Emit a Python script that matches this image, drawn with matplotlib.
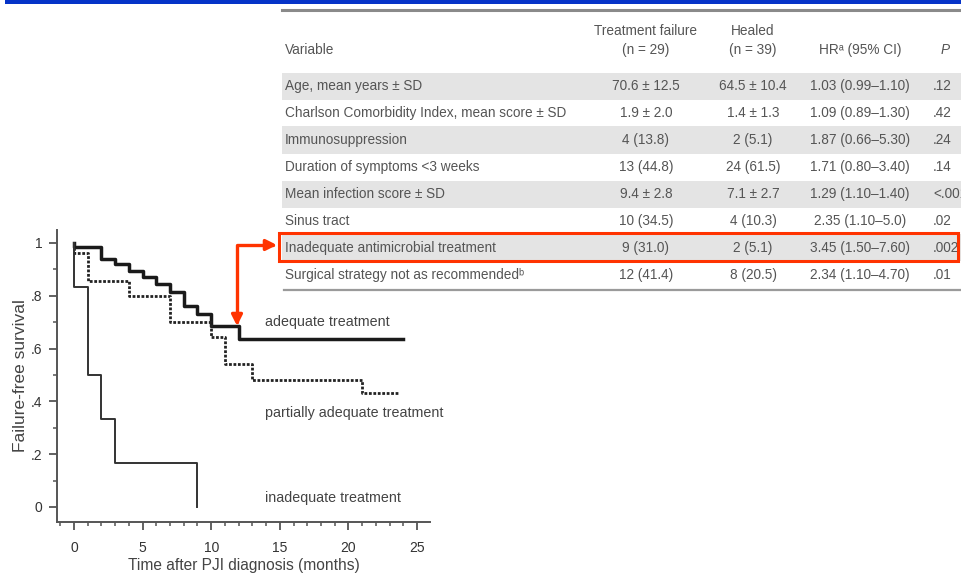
import numpy as np
import matplotlib
matplotlib.use('Agg')
import matplotlib.pyplot as plt
from matplotlib import patches
from matplotlib.path import Path
from matplotlib.ticker import MultipleLocator

plt.rcParams['font.family'] = ['Liberation Sans', 'DejaVu Sans']

#-------------------------------------------------------------------------------
# Data

# Kaplan-Meier curves (months, failure-free survival)
adequate_t = [0, 0, 2, 3, 4, 5, 6, 7, 8, 9, 10, 12, 24]
adequate_s = [1.0, 0.985, 0.94, 0.92, 0.895, 0.87, 0.845, 0.815, 0.76, 0.73, 0.685, 0.637, 0.637]

partial_t = [0, 0, 1, 4, 7, 10, 11, 13, 21, 23.6]
partial_s = [1.0, 0.96, 0.855, 0.80, 0.70, 0.645, 0.54, 0.48, 0.43, 0.43]

inadequate_t = [0, 0, 1, 2, 3, 9]
inadequate_s = [1.0, 0.833, 0.5, 0.333, 0.167, 0.0]

curve_labels = ['adequate treatment', 'partially adequate treatment', 'inadequate treatment']

y_ticks = [0, 0.2, 0.4, 0.6, 0.8, 1.0]
y_ticklabels = ['0', '.2', '.4', '.6', '.8', '1']
x_ticks = [0, 5, 10, 15, 20, 25]

# table
header_var = 'Variable'
header_cols = [('Treatment failure', '(n = 29)'), ('Healed', '(n = 39)')]
header_hr = 'HR\u1d43 (95% CI)'
header_p = 'P'

variables = ['Age, mean years \u00b1 SD',
             'Charlson Comorbidity Index, mean score \u00b1 SD',
             'Immunosuppression',
             'Duration of symptoms <3 weeks',
             'Mean infection score \u00b1 SD',
             'Sinus tract',
             'Inadequate antimicrobial treatment',
             'Surgical strategy not as recommended\u1d47']
failure = ['70.6 \u00b1 12.5', '1.9 \u00b1 2.0', '4 (13.8)', '13 (44.8)',
           '9.4 \u00b1 2.8', '10 (34.5)', '9 (31.0)', '12 (41.4)']
healed = ['64.5 \u00b1 10.4', '1.4 \u00b1 1.3', '2 (5.1)', '24 (61.5)',
          '7.1 \u00b1 2.7', '4 (10.3)', '2 (5.1)', '8 (20.5)']
hazard = ['1.03 (0.99\u20131.10)', '1.09 (0.89\u20131.30)', '1.87 (0.66\u20135.30)',
          '1.71 (0.80\u20133.40)', '1.29 (1.10\u20131.40)', '2.35 (1.10\u20135.0)',
          '3.45 (1.50\u20137.60)', '2.34 (1.10\u20134.70)']
p_values = ['.12', '.42', '.24', '.14', '<.001', '.02', '.002', '.01']
highlight = 6  # row boxed in red

#-------------------------------------------------------------------------------
# Figure

W, H = 961, 575
fig = plt.figure(figsize=(W / 100, H / 100), dpi=100)

def px(x, y):
    # pixel position (from top left) -> figure fraction
    return x / W, 1 - y / H

# blue bar on top
fig.patches.append(patches.Rectangle(px(5, 4), (W - 5) / W, 4 / H,
                                     transform=fig.transFigure, color='#0533c8', lw=0))

#-------------------------------------------------------------------------------
# Table

tcol = '#555555'
tsize = 9.8
row_y0, row_h = 86, 27
left_x, right_x = 282, 961
col_x = [646, 753, 860]
p_x = 933

# top rule
fig.add_artist(plt.Line2D([left_x / W, 1], [px(0, 10)[1]] * 2, color='#8a8a8a', lw=2.2,
                          transform=fig.transFigure))

fig.text(*px(285, 50), header_var, color=tcol, fontsize=tsize, va='center')
for cx, (h1, h2) in zip(col_x, header_cols):
    fig.text(*px(cx, 31), h1, color=tcol, fontsize=tsize, va='center', ha='center')
    fig.text(*px(cx, 50), h2, color=tcol, fontsize=tsize, va='center', ha='center')
fig.text(*px(col_x[2], 50), header_hr, color=tcol, fontsize=tsize, va='center', ha='center')
fig.text(*px(p_x + 8, 50), header_p, color=tcol, fontsize=tsize, va='center', style='italic')

for i, var in enumerate(variables):
    yc = row_y0 + i * row_h
    if i % 2 == 0:
        fig.patches.append(patches.Rectangle(px(left_x, yc + row_h / 2), (right_x - left_x) / W,
                                             row_h / H, transform=fig.transFigure,
                                             color='#e4e4e4', lw=0, zorder=0))
    fig.text(*px(285, yc), var, color=tcol, fontsize=tsize, va='center')
    for cx, vals in zip(col_x, [failure, healed, hazard]):
        fig.text(*px(cx, yc), vals[i], color=tcol, fontsize=tsize, va='center', ha='center')
    fig.text(*px(p_x, yc), p_values[i], color=tcol, fontsize=tsize, va='center')

# bottom rule
yb = row_y0 + (len(variables) - 0.5) * row_h + 1
fig.add_artist(plt.Line2D([284 / W, 1], [px(0, yb)[1]] * 2, color='#9a9a9a', lw=1.6,
                          transform=fig.transFigure))

# red box round the highlighted row
yh = row_y0 + highlight * row_h
fig.patches.append(patches.Rectangle(px(279, yh + 13.5), (958 - 279) / W, 28 / H,
                                     transform=fig.transFigure, fill=False,
                                     edgecolor='#ff3300', lw=2.2, zorder=5))

#-------------------------------------------------------------------------------
# Kaplan-Meier plot

ax = fig.add_axes([57 / W, 1 - 522 / H, (430 - 57) / W, (522 - 230) / H])
ax.step(adequate_t, adequate_s, where='post', color='#1a1a1a', lw=2.5)
ax.step(partial_t, partial_s, where='post', color='#222222', lw=2.0, ls=(0, (1, 0.6)))
ax.step(inadequate_t, inadequate_s, where='post', color='#333333', lw=1.4)

ax.set_xlim(-1.24, 25.95)
ax.set_ylim(-0.057, 1.049)
for s in ['top', 'right']:
    ax.spines[s].set_visible(False)
for s in ['left', 'bottom']:
    ax.spines[s].set_color('#555555')
    ax.spines[s].set_linewidth(1.4)

ax.set_xticks(x_ticks)
ax.set_yticks(y_ticks)
ax.set_yticklabels(y_ticklabels)
ax.xaxis.set_minor_locator(MultipleLocator(1))
ax.yaxis.set_minor_locator(MultipleLocator(0.1))
ax.tick_params(which='major', direction='out', length=5.5, width=1.3, color='#555555',
               labelsize=10, labelcolor='#333333')
ax.tick_params(which='minor', direction='out', length=3, width=1.1, color='#555555')
ax.tick_params(axis='x', which='major', pad=8)
ax.tick_params(axis='y', which='major', pad=5)

ax.set_xlabel('Time after PJI diagnosis (months)', fontsize=11.2, color='#444444', labelpad=2)
ax.set_ylabel('Failure-free survival', fontsize=12.5, color='#444444', labelpad=2)

label_y = [0.70, 0.356, 0.034]
for txt, ly in zip(curve_labels, label_y):
    ax.text(13.9, ly, txt, fontsize=10.3, color='#444444', va='center', ha='left')

# red arrow from table row to curve
verts = [px(277, 245), px(237, 245), px(237, 326)]
arrow = patches.FancyArrowPatch(path=Path(verts), arrowstyle='<|-|>', mutation_scale=16,
                                color='#ff3300', lw=2.4, transform=fig.transFigure)
fig.patches.append(arrow)

# bit of red logo cut at bottom right
fig.patches.append(patches.Circle(px(948, 600), 28 / W, transform=fig.transFigure,
                                  fill=False, edgecolor='#f04050', lw=2, alpha=0.7))

fig.savefig('out.png', dpi=100)
